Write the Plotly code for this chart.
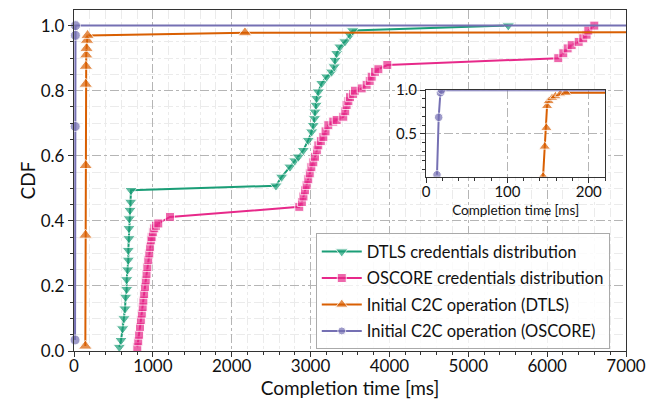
import plotly.graph_objects as go

# ---------------- data (completion time in ms, CDF) ----------------
dtls_cred_x = [575, 596, 617, 634, 647, 655, 668, 668, 681, 689, 689, 697, 697, 701, 710, 719, 723,
               2561, 2633, 2739, 2800, 2845, 2908, 2971, 3014, 3035, 3050, 3056, 3070, 3077, 3098,
               3141, 3204, 3267, 3300, 3310, 3331, 3373, 3436, 3500, 3534, 5507]
dtls_cred_y = [0.012, 0.033, 0.069, 0.10, 0.13, 0.166, 0.19, 0.22, 0.25, 0.28, 0.31, 0.346, 0.377, 0.407, 0.433, 0.458, 0.494,
               0.508, 0.535, 0.566, 0.585, 0.597, 0.617, 0.648, 0.674, 0.694, 0.715, 0.735, 0.756, 0.777, 0.797,
               0.823, 0.843, 0.858, 0.874, 0.894, 0.915, 0.935, 0.951, 0.971, 0.985, 1.0]

oscore_cred_x = [803, 815, 826, 837, 848, 860, 871, 880, 890, 900, 910, 920, 930, 942, 955, 965, 975, 985, 1000, 1018, 1040, 1069,
                 1217, 2857, 2890, 2910, 2929, 2950, 2971, 2990, 3010, 3035, 3056, 3080, 3098, 3130, 3162, 3190, 3225,
                 3288, 3331, 3415, 3440, 3457, 3480, 3500, 3540, 3563, 3648, 3711, 3750, 3775, 3817, 3860, 3973,
                 6141, 6205, 6260, 6311, 6400, 6458, 6500, 6522, 6598]
oscore_cred_y = [0.012, 0.03, 0.05, 0.074, 0.095, 0.115, 0.135, 0.155, 0.175, 0.197, 0.217, 0.237, 0.258, 0.28, 0.30, 0.32, 0.34, 0.35, 0.365, 0.377, 0.385, 0.392,
                 0.412, 0.443, 0.458, 0.475, 0.494, 0.51, 0.528, 0.546, 0.565, 0.58, 0.597, 0.617, 0.632, 0.645, 0.658, 0.675, 0.694,
                 0.705, 0.71, 0.72, 0.737, 0.756, 0.768, 0.78, 0.79, 0.80, 0.807, 0.818, 0.83, 0.843, 0.858, 0.866, 0.879,
                 0.90, 0.915, 0.93, 0.94, 0.95, 0.961, 0.972, 0.985, 1.0]

c2c_dtls_x = [143.8, 145.8, 147.9, 148.7, 150.8, 155, 159, 165, 171.7, 2168]
c2c_dtls_y = [0.015, 0.356, 0.57, 0.82, 0.875, 0.91, 0.93, 0.955, 0.97, 0.978]
c2c_dtls_tail_x = [7600]
c2c_dtls_tail_y = [0.98]

c2c_oscore_x = [13.3, 15.4, 17.5, 19.0]
c2c_oscore_y = [0.034, 0.69, 0.97, 1.0]
c2c_oscore_tail_x = [7600]
c2c_oscore_tail_y = [1.0]

names = ["DTLS credentials distribution", "OSCORE credentials distribution",
         "Initial C2C operation (DTLS)", "Initial C2C operation (OSCORE)"]
colors = ["#1b9e77", "#e7298a", "#d95f02", "#7570b3"]
symbols = ["triangle-down", "square", "triangle-up", "circle"]
marker_sizes = [11, 9, 12, 10]

x_ticks_main = [0, 1000, 2000, 3000, 4000, 5000, 6000, 7000]
y_ticks_main = [0.0, 0.2, 0.4, 0.6, 0.8, 1.0]

FONT = "Lato"
fig = go.Figure()


def add(xs, ys, i, xa="x", ya="y", show=True, tail_x=None, tail_y=None, clip=False, scale=1.0):
    x = list(xs)
    y = list(ys)
    sizes = [marker_sizes[i] * scale] * len(x)
    if tail_x:
        x += list(tail_x)
        y += list(tail_y)
        sizes += [0] * len(tail_x)
    fig.add_trace(go.Scatter(
        x=x, y=y, mode="lines+markers", name=names[i], legendgroup=names[i],
        showlegend=show, xaxis=xa, yaxis=ya, cliponaxis=clip,
        line=dict(color=colors[i], width=2),
        marker=dict(symbol=symbols[i], size=sizes, color=colors[i]),
    ))


add(dtls_cred_x, dtls_cred_y, 0)
add(oscore_cred_x, oscore_cred_y, 1)
add(c2c_dtls_x, c2c_dtls_y, 2, tail_x=c2c_dtls_tail_x, tail_y=c2c_dtls_tail_y)
add(c2c_oscore_x, c2c_oscore_y, 3, tail_x=c2c_oscore_tail_x, tail_y=c2c_oscore_tail_y)

# inset
add(c2c_dtls_x, c2c_dtls_y, 2, xa="x2", ya="y2", show=False, tail_x=c2c_dtls_tail_x, tail_y=c2c_dtls_tail_y, clip=True, scale=0.85)
add(c2c_oscore_x, c2c_oscore_y, 3, xa="x2", ya="y2", show=False, tail_x=c2c_oscore_tail_x, tail_y=c2c_oscore_tail_y, clip=True, scale=0.85)

axis_common = dict(
    showline=True, linecolor="#333333", linewidth=1.3, mirror=True,
    ticks="outside", ticklen=5, tickwidth=1, tickcolor="#333333",
    showgrid=True, gridcolor="#b5b5b5", gridwidth=1, griddash="dashdot",
    zeroline=False, automargin=False,
)

# page body has an 8px default margin: size the figure so the plot area lands where the reference has it
fig.update_layout(
    width=648, height=394,
    margin=dict(l=66, r=30, t=2, b=51),
    paper_bgcolor="white", plot_bgcolor="white",
    font=dict(family=FONT, color="#111111"),
    xaxis=dict(
        **axis_common, range=[0, 7000], tickvals=x_ticks_main,
        tickfont=dict(size=17), ticklabelstandoff=-6,
        title=dict(text="Completion time [ms]", font=dict(size=19), standoff=2),
        minor=dict(dtick=200, ticks="outside", ticklen=3, tickcolor="#333333",
                   showgrid=True, gridcolor="#ebebeb", gridwidth=0.8),
        domain=[0, 1],
    ),
    yaxis=dict(
        **axis_common, range=[0, 1.048], tickvals=y_ticks_main, tickformat=".1f",
        tickfont=dict(size=17),
        title=dict(text="CDF", font=dict(size=19), standoff=0),
        minor=dict(dtick=0.05, ticks="outside", ticklen=3, tickcolor="#333333",
                   showgrid=True, gridcolor="#ebebeb", gridwidth=0.8),
        domain=[0, 1],
    ),
    xaxis2=dict(
        **axis_common, range=[0, 220], dtick=100, tick0=0,
        tickfont=dict(size=15), ticklabelstandoff=-4,
        title=dict(text="Completion time [ms]", font=dict(size=13.5), standoff=6),
        minor=dict(dtick=20, ticks="outside", ticklen=3, tickcolor="#333333", showgrid=False),
        domain=[0.638, 0.962], anchor="y2",
    ),
    yaxis2=dict(
        **axis_common, range=[0.012, 1.0], tickvals=[0.5, 1.0], tickformat=".1f",
        tickfont=dict(size=15),
        minor=dict(dtick=0.1, ticks="outside", ticklen=3, tickcolor="#333333", showgrid=False),
        domain=[0.511, 0.765], anchor="x2",
    ),
    legend=dict(
        x=0.438, y=0.345, xanchor="left", yanchor="top",
        bgcolor="rgba(255,255,255,0.8)", bordercolor="#aaaaaa", borderwidth=1,
        font=dict(size=16.5, family=FONT), tracegroupgap=2, itemwidth=40,
    ),
)

fig.write_html("out.html")
